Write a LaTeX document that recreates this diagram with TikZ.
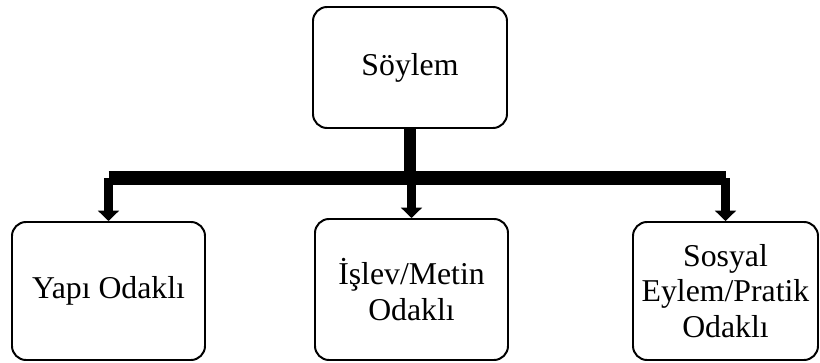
\documentclass[tikz,border=0pt]{standalone}
\usepackage{fontspec}
\setmainfont{Liberation Serif}
\usepackage{tikz}
\usetikzlibrary{arrows.meta, positioning, calc}

\begin{document}
\begin{tikzpicture}[
    box/.style={draw=black, line width=1.4pt, rounded corners=10pt, fill=white,
                align=center, inner sep=0pt, font=\fontsize{22.6}{25.5}\selectfont},
    trunk/.style={line width=0.28cm},
    busline/.style={line width=0.33cm, line cap=square},
    branch/.style={line width=0.23cm, -{Triangle[width=0.52cm, length=0.26cm]}}
]
    \useasboundingbox (0,0) rectangle (20.5,-9.075);

    % Boxes
    \node[box, minimum width=4.85cm, minimum height=3.025cm] at (10.25,-1.6875) (soylem) {Söylem};
    \node[box, minimum width=4.825cm, minimum height=3.45cm] at (2.7125,-7.275) (yapi) {Yapı Odaklı};
    \node[box, minimum width=4.825cm, minimum height=3.525cm] at (10.2875,-7.2375) (islev) {İşlev/Metin\\Odaklı};
    \node[box, minimum width=4.625cm, minimum height=3.45cm] at (18.1375,-7.275) (sosyal) {Sosyal\\Eylem/Pratik\\Odaklı};

    % Bus line
    \coordinate (bus) at ($(soylem.south)+(0,-1.225)$);
    \draw[trunk] (soylem.south) -- (bus);
    \draw[busline] (bus -| yapi.north) -- (bus -| sosyal.north);

    % Arrows down
    \foreach \n in {yapi, islev, sosyal} {
        \draw[branch] (bus -| \n.north) -- (\n.north);
    }
\end{tikzpicture}
\end{document}
